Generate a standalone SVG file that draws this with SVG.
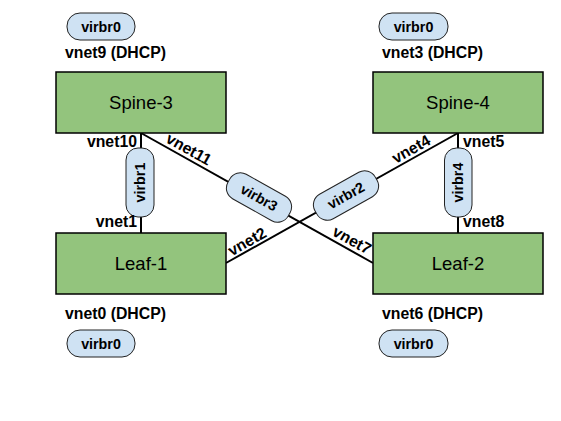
<svg xmlns="http://www.w3.org/2000/svg" width="561" height="421" viewBox="0 0 561 421">
<style>
.box{fill:#93c47d;stroke:#000;stroke-width:1.5}
.pill{fill:#cfe2f3;stroke:#222;stroke-width:1}
.big{font-family:"Liberation Sans",Arial,sans-serif;font-size:18.5px;fill:#000;text-anchor:middle}
.lbl{font-family:"Liberation Sans",Arial,sans-serif;font-size:15.8px;font-weight:bold;fill:#000}
.pt{font-family:"Liberation Sans",Arial,sans-serif;font-size:14.3px;font-weight:bold;fill:#000;text-anchor:middle}
.ln{stroke:#000;stroke-width:2;fill:none}
</style>
<rect width="561" height="421" fill="#fff"/>
<g id="connectors">
<line class="ln" x1="141" y1="133" x2="141" y2="233"/>
<line class="ln" x1="458" y1="133" x2="458" y2="233"/>
<line class="ln" x1="141" y1="133" x2="373" y2="263"/>
<line class="ln" x1="226" y1="263" x2="458" y2="133"/>
</g>
<g id="spine3"><rect class="box" x="56" y="72" width="170" height="61"/><text class="big" x="141" y="109">Spine-3</text></g>
<g id="spine4"><rect class="box" x="373" y="72" width="170" height="61"/><text class="big" x="458" y="109">Spine-4</text></g>
<g id="leaf1"><rect class="box" x="56" y="233" width="170" height="61"/><text class="big" x="141" y="270">Leaf-1</text></g>
<g id="leaf2"><rect class="box" x="373" y="233" width="170" height="61"/><text class="big" x="458" y="270">Leaf-2</text></g>
<g id="virbr0-tl"><rect class="pill" x="67" y="13" width="68" height="27" rx="13"/><text class="pt" x="101" y="32">virbr0</text></g>
<g id="virbr0-tr"><rect class="pill" x="379" y="13" width="69" height="27" rx="13"/><text class="pt" x="413.5" y="32">virbr0</text></g>
<g id="virbr0-bl"><rect class="pill" x="67" y="330" width="68" height="27" rx="13"/><text class="pt" x="101" y="349">virbr0</text></g>
<g id="virbr0-br"><rect class="pill" x="379" y="330" width="69" height="27" rx="13"/><text class="pt" x="413.5" y="349">virbr0</text></g>
<g id="virbr1"><rect class="pill" x="126" y="148" width="28" height="69" rx="12"/><text class="pt" transform="translate(140,182.5) rotate(-90)" y="5">virbr1</text></g>
<g id="virbr4"><rect class="pill" x="444.5" y="148" width="27.5" height="69" rx="12"/><text class="pt" transform="translate(458,182.5) rotate(-90)" y="5">virbr4</text></g>
<g id="virbr3"><g transform="translate(259,197.5) rotate(29.3)"><rect class="pill" x="-34.5" y="-14" width="69" height="28" rx="12"/><text class="pt" y="5">virbr3</text></g></g>
<g id="virbr2"><g transform="translate(346,195.5) rotate(-29.3)"><rect class="pill" x="-34.5" y="-14" width="69" height="28" rx="12"/><text class="pt" y="5">virbr2</text></g></g>
<g id="labels">
<text class="lbl" x="65" y="57.5">vnet9 (DHCP)</text>
<text class="lbl" x="382" y="57.5">vnet3 (DHCP)</text>
<text class="lbl" x="65" y="319">vnet0 (DHCP)</text>
<text class="lbl" x="382" y="319">vnet6 (DHCP)</text>
<text class="lbl" x="137" y="147" text-anchor="end">vnet10</text>
<text class="lbl" x="137" y="226.5" text-anchor="end">vnet1</text>
<text class="lbl" x="463" y="147">vnet5</text>
<text class="lbl" x="463" y="226.5">vnet8</text>
<text class="lbl" text-anchor="middle" transform="translate(189,149) rotate(29.3)" y="5.5">vnet11</text>
<text class="lbl" text-anchor="middle" transform="translate(411,149) rotate(-29.3)" y="5.5">vnet4</text>
<text class="lbl" text-anchor="middle" transform="translate(247,241.5) rotate(-29.3)" y="5.5">vnet2</text>
<text class="lbl" text-anchor="middle" transform="translate(352,240) rotate(29.3)" y="5.5">vnet7</text>
</g>
</svg>
